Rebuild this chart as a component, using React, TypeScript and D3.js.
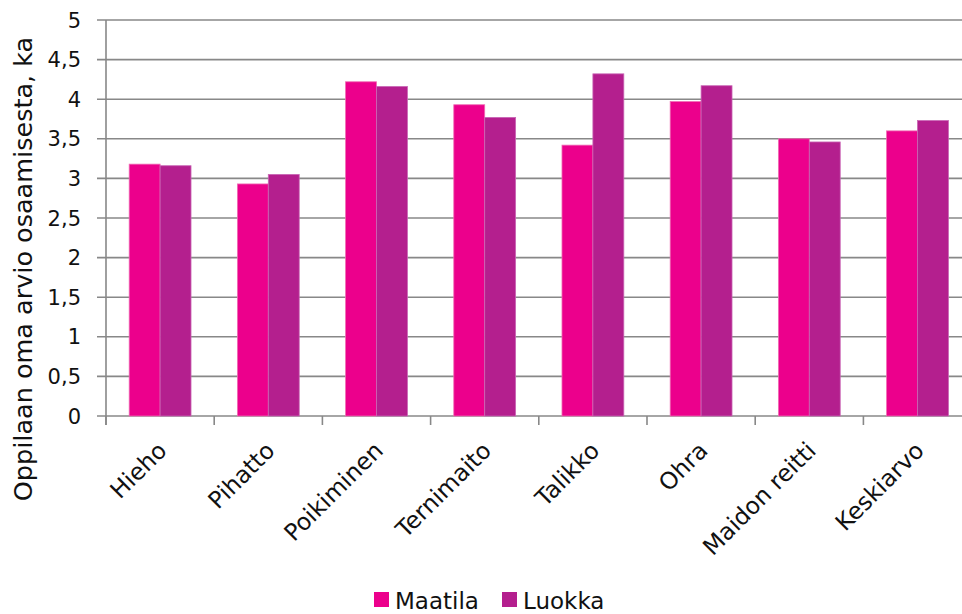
import React from "react";
import * as d3 from "d3";

const categories = ["Hieho", "Pihatto", "Poikiminen", "Ternimaito", "Talikko", "Ohra", "Maidon reitti", "Keskiarvo"];
const maatila = [3.18, 2.93, 4.22, 3.93, 3.42, 3.97, 3.5, 3.6];
const luokka = [3.16, 3.05, 4.16, 3.77, 4.32, 4.17, 3.46, 3.73];
const seriesNames = ["Maatila", "Luokka"];
const seriesColors = ["#EC008C", "#B41F8E"];
const strokeColors = ["#F06BB4", "#C965B4"];
const yTicks = [0, 0.5, 1, 1.5, 2, 2.5, 3, 3.5, 4, 4.5, 5];

const W = 962;
const H = 614;
const FONT = "'DejaVu Sans', Verdana, sans-serif";

export default function App() {
  const x = d3.scaleBand<string>().domain(categories).range([106, 971.6]).paddingInner(0).paddingOuter(0);
  const y = d3.scaleLinear().domain([0, 5]).range([416, 20]);
  const bw = x.bandwidth();
  const barW = bw / 3.5;
  const gap = (bw - 2 * barW) / 2;
  const inner = d3.scaleBand<number>().domain([0, 1]).range([gap, gap + 2 * barW]);
  const data = [maatila, luokka];
  const grid = "#888888";
  const fmt = (v: number) => String(v).replace(".", ",");

  return (
    <svg width={W} height={H} style={{ position: "absolute", left: 0, top: 0, background: "#fff" }} fontFamily={FONT}>
      {yTicks.map((t) => (
        <line key={"g" + t} x1={97} x2={W} y1={y(t)} y2={y(t)} stroke={grid} strokeWidth={1.6} />
      ))}
      <line x1={106} x2={106} y1={y(5)} y2={425} stroke={grid} strokeWidth={1.6} />
      {categories.map((c) => (
        <line key={"t" + c} x1={x(c)!} x2={x(c)!} y1={416} y2={425} stroke={grid} strokeWidth={1.6} />
      ))}
      {categories.map((c, i) => (
        <g key={"b" + c}>
          {data.map((s, si) => (
            <rect
              key={si}
              x={x(c)! + inner(si)!}
              y={y(s[i])}
              width={inner.bandwidth()}
              height={y(0) - y(s[i])}
              fill={seriesColors[si]}
              stroke={strokeColors[si]}
              strokeWidth={0.8}
            />
          ))}
        </g>
      ))}
      {yTicks.map((t) => (
        <text key={"l" + t} x={81} y={y(t)} dy="0.36em" textAnchor="end" fontSize={21} fill="#111">
          {fmt(t)}
        </text>
      ))}
      <text transform={`translate(32, ${(y(0) + y(5)) / 2 + 51}) rotate(-90)`} textAnchor="middle" fontSize={25.5} fill="#111">
        Oppilaan oma arvio osaamisesta, ka
      </text>
      {categories.map((c) => (
        <text
          key={"x" + c}
          transform={`translate(${x(c)! + bw / 2 + 8}, 452) rotate(-45)`}
          textAnchor="end"
          fontSize={23.5}
          fill="#111"
        >
          {c}
        </text>
      ))}
      {seriesNames.map((n, i) => {
        const lx = i === 0 ? 374 : 502;
        return (
          <g key={"lg" + n}>
            <rect x={lx} y={592} width={15} height={15} fill={seriesColors[i]} />
            <text x={lx + 21} y={609} fontSize={23} fill="#111">
              {n}
            </text>
          </g>
        );
      })}
    </svg>
  );
}
